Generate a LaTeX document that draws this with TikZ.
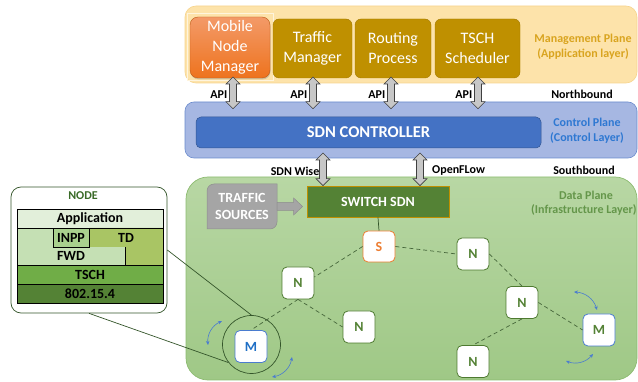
\documentclass[tikz,border=0pt]{standalone}
\usepackage{fontspec}
\setmainfont{Carlito}
\usetikzlibrary{arrows.meta,calc,shadows}

\definecolor{mgmtfill}{HTML}{FDE3AA}
\definecolor{mgmtline}{HTML}{F6D48E}
\definecolor{mgmttext}{HTML}{D9A41F}
\definecolor{gold}{HTML}{BF9000}
\definecolor{mnmtop}{HTML}{F39A68}
\definecolor{mnmbot}{HTML}{EE731E}
\definecolor{ctrlfill}{HTML}{A6B7E2}
\definecolor{ctrlline}{HTML}{6A8BCD}
\definecolor{ctrltext}{HTML}{2E78D2}
\definecolor{sdnblue}{HTML}{4472C4}
\definecolor{datatop}{HTML}{B8D7A4}
\definecolor{databot}{HTML}{9FC886}
\definecolor{dataline}{HTML}{8CBB70}
\definecolor{datatext}{HTML}{64964A}
\definecolor{tsgray}{HTML}{A5A5A5}
\definecolor{tsline}{HTML}{8E8E8E}
\definecolor{switchgreen}{HTML}{548235}
\definecolor{sorange}{HTML}{ED7D31}
\definecolor{nline}{HTML}{4E7A30}
\definecolor{mline}{HTML}{4A7CD0}
\definecolor{mtext}{HTML}{1F6FC5}
\definecolor{linkc}{HTML}{46663A}
\definecolor{ringc}{HTML}{34552A}
\definecolor{appc}{HTML}{E2EFDA}
\definecolor{fwdc}{HTML}{C5E0B4}
\definecolor{inppc}{HTML}{A9D18E}
\definecolor{tdc}{HTML}{A9C564}
\definecolor{tschc}{HTML}{70AD47}
\definecolor{lowc}{HTML}{548235}
\definecolor{nodetitle}{HTML}{3A6B28}

% vertical two-headed block arrow between a top and a bottom point
\newcommand{\vbiarrow}[3][]{%
  \draw[#1] let \p1=(#2), \p2=(#3) in
    (\x1,\y1) -- (\x1+7pt,\y1-7pt) -- (\x1+3.5pt,\y1-7pt) -- (\x1+3.5pt,\y2+7pt)
    -- (\x1+7pt,\y2+7pt) -- (\x1,\y2) -- (\x1-7pt,\y2+7pt) -- (\x1-3.5pt,\y2+7pt)
    -- (\x1-3.5pt,\y1-7pt) -- (\x1-7pt,\y1-7pt) -- cycle;}
% horizontal one-headed block arrow pointing right
\newcommand{\hblockarrow}[3][]{%
  \draw[#1] let \p1=(#2), \p2=(#3) in
    (\x1,\y1+4pt) -- (\x2-9pt,\y1+4pt) -- (\x2-9pt,\y1+8.5pt) -- (\x2,\y1)
    -- (\x2-9pt,\y1-8.5pt) -- (\x2-9pt,\y1-4pt) -- (\x1,\y1-4pt) -- cycle;}

\begin{document}
\begin{tikzpicture}[x=1pt,y=-1pt,
  lbl/.style={font=\bfseries\fontsize{12}{14}\selectfont, inner sep=0pt},
  mgrbox/.style={rounded corners=6pt, fill=gold, draw=gold!85!black, line width=0.4pt,
    text=white, font=\fontsize{16}{20}\selectfont, align=center, inner sep=0pt,
    minimum height=59pt},
  apiarrow/.style={fill=black!22, draw=black!75, line width=0.6pt},
  netnode/.style={rounded corners=5pt, fill=white, draw=nline, line width=0.8pt,
    minimum size=32pt, inner sep=0pt, font=\bfseries\fontsize{14}{16}\selectfont,
    text=switchgreen},
  mobnode/.style={netnode, draw=mline},
  link/.style={draw=linkc, line width=0.7pt, dash pattern=on 4pt off 3pt},
  swirl/.style={draw=mline, line width=0.6pt, {Stealth[length=4pt,width=3.5pt]}-{Stealth[length=4pt,width=3.5pt]}},
  stackline/.style={draw=black, line width=0.8pt},
  stacktxt/.style={font=\bfseries\fontsize{14}{16}\selectfont, inner sep=0pt}
]
\useasboundingbox (0,0) rectangle (638,382);

% ---------- three planes ----------
\node[rounded corners=11pt, fill=mgmtfill, draw=mgmtline, line width=0.6pt,
  minimum width=452pt, minimum height=77pt] (mgmt) at (411,44.5) {};
\node[rounded corners=9pt, fill=ctrlfill, draw=ctrlline, line width=0.6pt,
  minimum width=452pt, minimum height=56pt] (ctrl) at (411,130) {};
\node[rounded corners=22pt, top color=datatop, bottom color=databot, draw=dataline,
  line width=0.7pt, minimum width=451pt, minimum height=203pt] (data) at (411.5,278.5) {};

% ---------- management plane ----------
\draw[draw=white!60!mgmtfill, line width=0.5pt] (187,13) rectangle (273,80);
\node[rounded corners=8pt, top color=mnmtop, bottom color=mnmbot, draw=mnmbot!80!black,
  line width=0.4pt, drop shadow={opacity=0.35, shadow xshift=0.6pt, shadow yshift=-1.4pt},
  minimum width=80pt, minimum height=61pt, inner sep=0pt, text=white,
  font=\fontsize{16}{20}\selectfont, align=center] (mnm) at (230,47.5)
  {Mobile\\Node\\Manager};
\node[mgrbox, minimum width=79pt] (tm) at (312.5,48.5) {Traffic\\Manager};
\node[mgrbox, minimum width=76pt] (rp) at (393,48.5) {Routing\\Process};
\node[mgrbox, minimum width=85pt] (ts) at (477.5,48.5) {TSCH\\Scheduler};
\node[lbl, text=mgmttext, align=center, font=\bfseries\fontsize{12}{15}\selectfont]
  (mgmtlbl) at (583,47) {Management Plane\\(Application layer)};

% ---------- control plane ----------
\node[rounded corners=5pt, fill=sdnblue, draw=sdnblue!75!black, line width=0.5pt,
  minimum width=345pt, minimum height=31pt, text=white,
  font=\bfseries\fontsize{16.5}{18}\selectfont] (sdn) at (368.5,132.5) {SDN CONTROLLER};
\node[lbl, text=ctrltext, align=center, font=\bfseries\fontsize{12}{15}\selectfont]
  (ctrllbl) at (587,131) {Control Plane\\(Control Layer)};

% northbound API arrows, each with its label just left of it
\foreach \b/\ax in {mnm/233, tm/313, rp/391, ts/478}{
  \coordinate (\b top) at (\ax,77);
  \coordinate (\b bot) at ($(\b top |- ctrl.north)+(0,7)$);
  \vbiarrow[apiarrow]{\b top}{\b bot}
  \node[lbl, anchor=east] at ($(\b top)+(-5.5,18)$) {API};
}
\node[lbl] (north) at (582,94.5) {Northbound};

% southbound arrows
\coordinate (sbA) at (323,153);
\coordinate (sbB) at (420,153);
\node[lbl, anchor=east] (wise) at (319.5,171) {SDN Wise};
\node[lbl, anchor=west] (oflow) at (432,171) {OpenFLow};
\node[lbl] (south) at (584,170.5) {Southbound};

% ---------- data plane ----------
\node[lbl, text=datatext] (datalbl) at (586,195) {Data Plane};
\node[lbl, text=datatext, anchor=west] (infralbl) at (531,210) {(Infrastructure Layer)};

\node[fill=switchgreen, draw=gold, line width=0.8pt, minimum width=142pt,
  minimum height=31pt, inner sep=0pt, text=white,
  font=\bfseries\fontsize{14}{16}\selectfont] (switch) at (378,201.5) {SWITCH SDN};

\vbiarrow[apiarrow]{sbA}{sbA |- switch.north}
\vbiarrow[apiarrow]{sbB}{sbB |- switch.north}

% traffic sources with two rounded corners
\draw[fill=tsgray, draw=tsline, line width=0.5pt]
  (277,184) -- (277,206) [rounded corners=7pt] -- (277,229) -- (240,229)
  [sharp corners] -- (207,229) -- (207,206) [rounded corners=7pt] -- (207,184)
  -- (240,184) [sharp corners] -- cycle;
\node[minimum width=70pt, minimum height=45pt, inner sep=0pt, text=white, align=center,
  font=\bfseries\fontsize{14}{17}\selectfont] (src) at (242,206.5) {TRAFFIC\\SOURCES};
\hblockarrow[fill=tsgray, draw=tsline, line width=0.5pt]{src.east}{$(switch.west)+(-4,0)$}

% sensor nodes
\node[netnode, draw=sorange, text=sorange, minimum width=32pt, minimum height=31pt]
  (S) at (379,246.5) {S};
\node[netnode] (N1) at (298,283) {N};
\node[netnode] (N2) at (359,327) {N};
\node[mobnode, text=mtext] (M1) at (251,346.5) {M};
\node[netnode] (N3) at (473,254) {N};
\node[netnode] (N4) at (522,302.5) {N};
\node[mobnode] (M2) at (599,330) {M};
\node[netnode] (N5) at (473,361.5) {N};

\draw[draw=ringc, line width=0.7pt] (switch.south) -- (S.north);
\draw[link] (S.west) -- (N1.20);
\draw[link] (S.east) -- (N3.west);
\draw[link] (N1.south) -- (M1.north);
\draw[link] (N1.south) -- (N2.west);
\draw[link] (N3.east) -- (N4.north);
\draw[link] (N4.east) -- (M2.west);
\draw[link] (N4.south) -- (N5.north);

% movement hints around the mobile nodes
\coordinate (m1a) at (222,321);
\coordinate (m1b) at (208,345);
\coordinate (m1c) at (292,357);
\coordinate (m1d) at (272,377);
\coordinate (m2a) at (574,292);
\coordinate (m2b) at (597,310);
\coordinate (m2c) at (566,361);
\coordinate (m2d) at (593,354);
\draw[swirl] (m1a) to[bend right=35] (m1b);
\draw[swirl] (m1c) to[bend left=35] (m1d);
\draw[swirl] (m2a) to[bend left=35] (m2b);
\draw[swirl] (m2c) to[bend right=35] (m2d);

% ring around the zoomed node
\node[circle, draw=ringc, line width=0.7pt, minimum size=58pt, inner sep=0pt]
  (ring) at (251.5,344.5) {};

% ---------- node stack detail ----------
\node[rounded corners=10pt, fill=white, draw=ringc, line width=0.7pt,
  minimum width=156pt, minimum height=126pt] (nodebox) at (89,250) {};
\node[lbl, text=nodetitle] (nodetitle) at (83,195.5) {NODE};

\fill[appc] (17,209) rectangle (163,228);
\fill[fwdc] (17,228) rectangle (163,265);
\fill[tdc] (89,228) -- (163,228) -- (163,265) -- (125,265) -- (125,247) -- (89,247) -- cycle;
\fill[inppc] (53,228) rectangle (89,247);
\fill[tschc] (17,265) rectangle (163,284);
\fill[lowc] (17,284) rectangle (163,303);
\draw[stackline] (17,209) rectangle (163,303);
\draw[stackline] (17,228) -- (163,228);
\draw[stackline] (17,265) -- (163,265);
\draw[stackline] (17,284) -- (163,284);
\draw[stackline] (53,228) rectangle (89,247);
\draw[stackline] (125,247) -- (125,265);

\node[stacktxt] (app) at (90,218.5) {Application};
\node[stacktxt] (inpp) at (71,237.5) {INPP};
\node[stacktxt] (td) at (126,237.5) {TD};
\node[stacktxt] (fwd) at (71,256) {FWD};
\node[stacktxt] (tsch) at (90,274.5) {TSCH};
\node[stacktxt] (mac) at (90,293.5) {802.15.4};

% zoom lines from the stack to the ring
\draw[draw=ringc, line width=0.7pt] (nodebox.east) -- (ring.90);
\draw[draw=ringc, line width=0.7pt] (nodebox.south) -- (ring.218);
\end{tikzpicture}
\end{document}
